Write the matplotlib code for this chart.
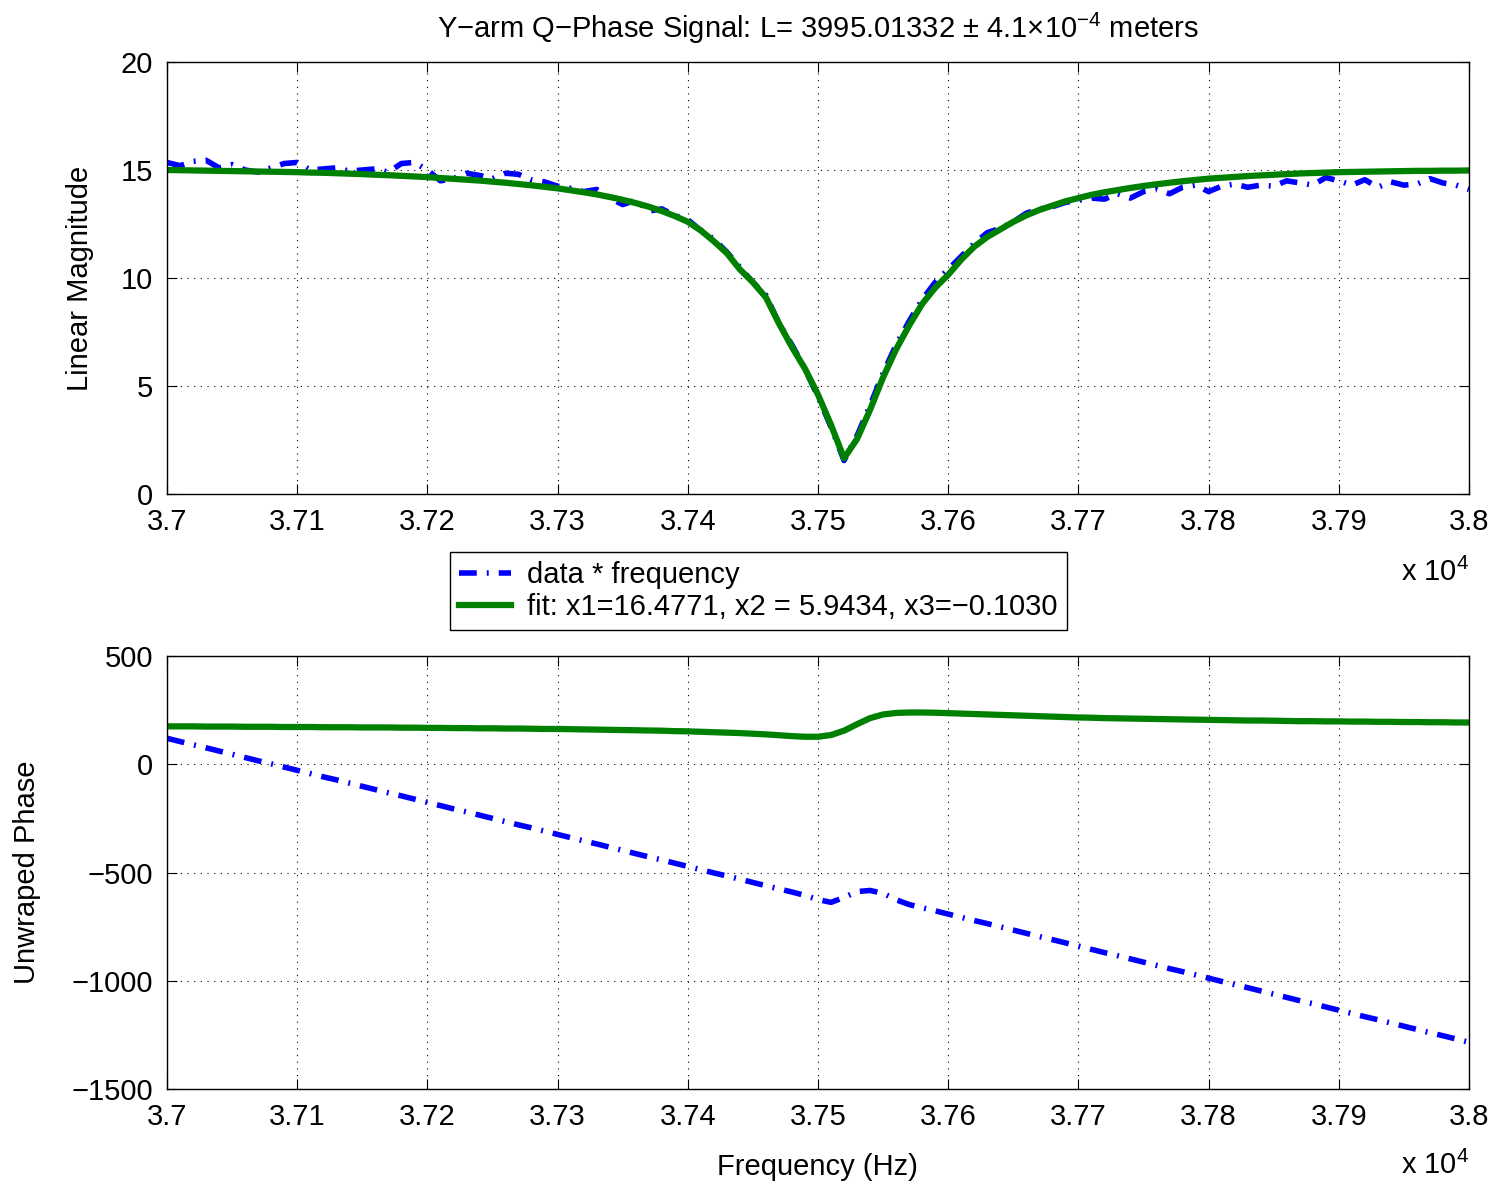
import matplotlib
matplotlib.use("Agg")
import matplotlib.pyplot as plt

plt.rcParams['font.family'] = ['Liberation Sans', 'DejaVu Sans']
plt.rcParams['mathtext.fontset'] = 'custom'
plt.rcParams['mathtext.rm'] = 'Liberation Sans'
plt.rcParams['mathtext.it'] = 'Liberation Sans:italic'
plt.rcParams['mathtext.bf'] = 'Liberation Sans:bold'

# ---------------- data ----------------
freq = [37000 + 10 * k for k in range(101)]

data_mag = [15.35, 15.2, 15.4, 15.45, 15.1, 15.25, 15.0, 14.9, 15.1, 15.3,
            15.35, 15.0, 15.05, 15.1, 14.95, 15.0, 15.05, 14.9, 15.3, 15.35,
            15.0, 14.5, 14.6, 14.85, 14.75, 14.6, 14.85, 14.8, 14.55, 14.45,
            14.25, 14.15, 14.0, 14.1, 13.7, 13.4, 13.6, 13.1, 13.2, 12.9,
            12.7, 12.2, 11.8, 11.2, 10.5, 9.8, 9.2, 7.9, 6.9, 5.8,
            4.5, 3.1, 1.55, 2.7, 4.1, 5.6, 6.9, 8.0, 9.0, 9.8,
            10.4, 11.0, 11.6, 12.1, 12.3, 12.6, 13.0, 13.2, 13.3, 13.5,
            13.6, 13.7, 13.65, 13.9, 13.7, 14.0, 14.1, 13.9, 14.2, 14.3,
            14.0, 14.25, 14.35, 14.2, 14.3, 14.25, 14.5, 14.4, 14.3, 14.65,
            14.5, 14.3, 14.55, 14.2, 14.45, 14.3, 14.35, 14.6, 14.4, 14.3,
            14.1]

fit_mag = [15.00, 14.99, 14.98, 14.97, 14.96, 14.95, 14.94, 14.93, 14.92, 14.91,
           14.90, 14.88, 14.87, 14.85, 14.83, 14.81, 14.78, 14.76, 14.73, 14.70,
           14.67, 14.63, 14.59, 14.55, 14.51, 14.46, 14.41, 14.35, 14.29, 14.22,
           14.15, 14.06, 13.97, 13.87, 13.75, 13.62, 13.47, 13.30, 13.10, 12.87,
           12.60, 12.20, 11.70, 11.15, 10.40, 9.80, 9.10, 7.90, 6.80, 5.80,
           4.60, 3.20, 1.65, 2.55, 3.90, 5.40, 6.70, 7.80, 8.80, 9.55,
           10.15, 10.85, 11.45, 11.90, 12.25, 12.60, 12.90, 13.15, 13.35, 13.55,
           13.70, 13.85, 13.97, 14.07, 14.17, 14.26, 14.34, 14.41, 14.48, 14.54,
           14.60, 14.64, 14.68, 14.72, 14.75, 14.78, 14.81, 14.84, 14.86, 14.88,
           14.90, 14.91, 14.92, 14.93, 14.94, 14.95, 14.96, 14.96, 14.97, 14.97,
           14.98]

data_phase = [120, 105, 90, 76, 61, 46, 31, 16, 2, -13,
              -28, -43, -58, -72, -87, -102, -117, -132, -146, -161,
              -176, -191, -206, -220, -235, -250, -265, -280, -294, -309,
              -324, -339, -354, -368, -383, -398, -413, -428, -442, -457,
              -472, -487, -502, -516, -531, -546, -561, -576, -590, -606,
              -625, -638, -615, -588, -583, -596, -626, -648, -663, -677,
              -692, -707, -722, -736, -751, -766, -781, -796, -810, -825,
              -840, -855, -870, -884, -899, -914, -929, -944, -958, -973,
              -988, -1003, -1018, -1032, -1047, -1062, -1077, -1092, -1106, -1121,
              -1136, -1151, -1166, -1180, -1195, -1210, -1225, -1240, -1254, -1269,
              -1284]

fit_phase = [175, 175, 175, 174, 174, 174, 173, 173, 173, 172,
             172, 172, 171, 171, 171, 170, 170, 170, 169, 169,
             168, 168, 167, 167, 166, 166, 165, 165, 164, 163,
             163, 162, 161, 160, 159, 158, 157, 156, 155, 153,
             152, 150, 148, 146, 144, 141, 138, 134, 130, 127,
             127, 135, 155, 185, 213, 230, 237, 239, 239, 238,
             236, 234, 232, 230, 228, 226, 224, 222, 220, 218,
             216, 215, 213, 212, 211, 210, 209, 208, 207, 206,
             205, 204, 203, 202, 202, 201, 200, 199, 199, 198,
             198, 197, 197, 196, 196, 195, 195, 194, 194, 193,
             193]

xticks = [37000, 37100, 37200, 37300, 37400, 37500, 37600, 37700, 37800, 37900, 38000]
xtick_labels = ['3.7', '3.71', '3.72', '3.73', '3.74', '3.75', '3.76', '3.77', '3.78', '3.79', '3.8']
mag_ticks = [0, 5, 10, 15, 20]
mag_tick_labels = ['0', '5', '10', '15', '20']
phase_ticks = [-1500, -1000, -500, 0, 500]
phase_tick_labels = ['\u22121500', '\u22121000', '\u2212500', '0', '500']

title = 'Y\u2212arm Q\u2212Phase Signal: L= 3995.01332 $\\pm$ 4.1$\\times$10$^{\\mathrm{-4}}$ meters'
data_label = 'data * frequency'
fit_label = 'fit: x1=16.4771, x2 = 5.9434, x3=\u22120.1030'

# ---------------- figure ----------------
W, H = 1501, 1191
fig = plt.figure(figsize=(W / 100, H / 100), dpi=100)

def fx(px):
    return px / W

def fy(py):
    return 1 - py / H

ax1 = fig.add_axes([fx(167), fy(494), fx(1469) - fx(167), fy(62) - fy(494)])
ax2 = fig.add_axes([fx(167), fy(1089), fx(1469) - fx(167), fy(656) - fy(1089)])

FS = 21
blue = '#0000ff'
green = '#008000'
dash = (0, (3.2, 1.8, 0.35, 1.8))

l1, = ax1.plot(freq, data_mag, color=blue, lw=4, linestyle=dash,
               dash_capstyle='butt', label=data_label)
l2, = ax1.plot(freq, fit_mag, color=green, lw=4.5, label=fit_label,
               solid_joinstyle='round')
ax2.plot(freq, data_phase, color=blue, lw=4, linestyle=dash, dash_capstyle='butt')
ax2.plot(freq, fit_phase, color=green, lw=4.5)

for ax in (ax1, ax2):
    ax.set_xlim(37000, 38000)
    ax.set_xticks(xticks)
    ax.set_xticklabels(xtick_labels)
    ax.grid(True, color='black', linestyle=(0, (1, 5)), linewidth=0.8)
    ax.tick_params(direction='in', top=True, right=True, length=7,
                   width=0.8, labelsize=FS, pad=10)
    for s in ax.spines.values():
        s.set_linewidth(1.0)

ax1.set_ylim(0, 20)
ax1.set_yticks(mag_ticks)
ax1.set_yticklabels(mag_tick_labels)
ax2.set_ylim(-1500, 500)
ax2.set_yticks(phase_ticks)
ax2.set_yticklabels(phase_tick_labels)

AXW = 1302.0
AXH = 433.0
ax1.set_ylabel('Linear Magnitude', fontsize=FS)
ax1.yaxis.set_label_coords((80 - 167) / AXW, 0.5)
ax1.yaxis.label.set_va('center')
ax2.set_ylabel('Unwraped Phase', fontsize=FS)
ax2.yaxis.set_label_coords((27 - 167) / AXW, 0.5)
ax2.yaxis.label.set_va('center')
ax2.set_xlabel('Frequency (Hz)', fontsize=FS)
ax2.xaxis.set_label_coords((817 - 167) / AXW, -(1167 - 1089) / AXH)
ax2.xaxis.label.set_va('center')

fig.text(fx(818), fy(28), title, fontsize=FS, ha='center', va='center')

fig.text(fx(1469), fy(581), 'x 10$^{4}$', fontsize=FS, ha='right', va='baseline')
fig.text(fx(1469), fy(1174), 'x 10$^{4}$', fontsize=FS, ha='right', va='baseline')

leg = fig.legend(handles=[l1, l2], loc='upper left',
                 bbox_to_anchor=(fx(450), fy(552)), fontsize=FS,
                 frameon=True, fancybox=False, framealpha=1, edgecolor='black',
                 handlelength=1.8, handletextpad=0.55, borderpad=0.3,
                 labelspacing=0.15, borderaxespad=0)
leg.get_frame().set_linewidth(1.0)

fig.savefig('out.png', dpi=100)
